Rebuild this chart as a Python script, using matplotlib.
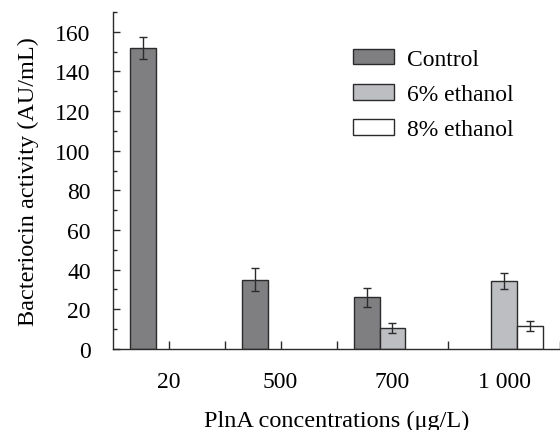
import numpy as np
import matplotlib
matplotlib.use("Agg")
import matplotlib.pyplot as plt

plt.rcParams['font.family'] = ['Liberation Serif', 'DejaVu Serif']

# data
concentrations = ["20", "500", "700", "1 000"]
control = [152, 35, 26, 0]
control_err = [5.5, 6, 4.7, 0]
ethanol6 = [0, 0, 10.8, 34.3]
ethanol6_err = [0, 0, 2.5, 4]
ethanol8 = [0, 0, 0, 11.6]
ethanol8_err = [0, 0, 0, 2.5]

fig = plt.figure(figsize=(5.6, 4.31), dpi=100)
ax = fig.add_axes([0.2018, 0.188, 0.7982, 0.782])

x = np.arange(len(concentrations))
w = 0.23
edge = "#2b2b2b"
err_kw = dict(ecolor="#2b2b2b", elinewidth=1.0, capsize=2.8, capthick=1.0)

series = [
    (control, control_err, -w, "#7f7f82", "Control"),
    (ethanol6, ethanol6_err, 0, "#bdbec1", "6% ethanol"),
    (ethanol8, ethanol8_err, w, "white", "8% ethanol"),
]
for vals, errs, off, color, label in series:
    vals = np.array(vals, dtype=float)
    errs = np.array(errs, dtype=float)
    mask = vals > 0
    ax.bar(x[mask] + off, vals[mask], width=w, color=color, edgecolor=edge,
           linewidth=1.0, label=label, zorder=2)
    ax.errorbar(x[mask] + off, vals[mask], yerr=errs[mask], fmt="none",
                zorder=3, **err_kw)

ax.set_xlim(-0.5, 3.46)
ax.set_ylim(0, 170)
ax.set_yticks(np.arange(0, 161, 20))
ax.set_yticks(np.arange(10, 171, 20), minor=True)
ax.set_xticks(x)
ax.set_xticklabels(concentrations)
ax.set_xticks(x + 0.5, minor=True)

for s in ["top", "right"]:
    ax.spines[s].set_visible(False)
for s in ["left", "bottom"]:
    ax.spines[s].set_linewidth(1.0)
    ax.spines[s].set_color("#2b2b2b")

ax.tick_params(axis="both", which="both", direction="in", color="#2b2b2b",
               width=1.0, labelsize=17, pad=16)
ax.tick_params(axis="y", which="major", length=5)
ax.tick_params(axis="y", which="minor", length=3)
ax.tick_params(axis="x", which="both", length=5.5)

ax.set_ylabel("Bacteriocin activity (AU/mL)", fontsize=17.5, labelpad=12)
ax.set_xlabel("PlnA concentrations (μg/L)", fontsize=17.5, labelpad=13)

ax.legend(loc="upper left", bbox_to_anchor=(0.537, 0.89), frameon=False,
          fontsize=17, handlelength=1.75, handleheight=0.62,
          handletextpad=0.55, labelspacing=0.6, borderpad=0, borderaxespad=0)

fig.savefig("out.png", dpi=100)
